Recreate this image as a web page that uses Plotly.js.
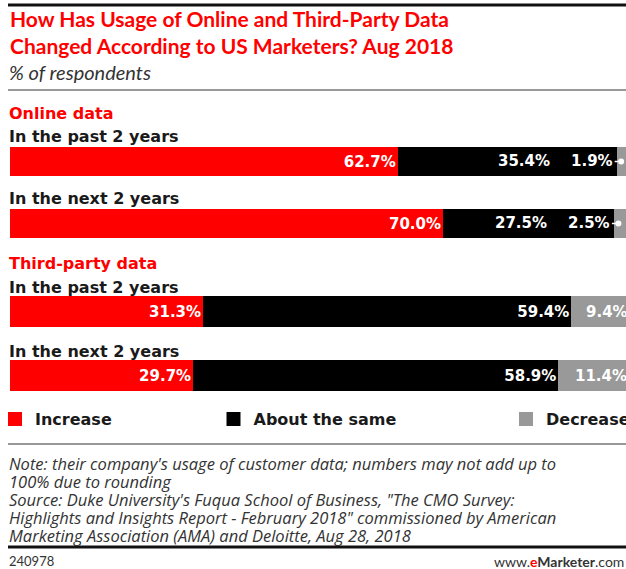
<!DOCTYPE html>
<html>
<head>
<meta charset="utf-8">
<script src="https://cdn.plot.ly/plotly-3.0.1.min.js"></script>
<style>html,body{margin:0;padding:0;background:#fff;}#chart{width:626px;height:569px;}</style>
</head>
<body>
<div id="chart"></div>
<script>
// ---- data ----
const groups = ['Online data', 'Third-party data'];
const rows = ['In the past 2 years', 'In the next 2 years'];
const seriesNames = ['Increase', 'About the same', 'Decrease'];
const seriesColors = ['#ff0000', '#000000', '#999999'];
const onlineIncrease = [62.7, 70.0];
const onlineSame = [35.4, 27.5];
const onlineDecrease = [1.9, 2.5];
const thirdIncrease = [31.3, 29.7];
const thirdSame = [59.4, 58.9];
const thirdDecrease = [9.4, 11.4];
const noteLines = [
  "Note: their company's usage of customer data; numbers may not add up to",
  "100% due to rounding",
  "Source: Duke University's Fuqua School of Business, \"The CMO Survey:",
  "Highlights and Insights Report - February 2018\" commissioned by American",
  "Marketing Association (AMA) and Deloitte, Aug 28, 2018"
];

// ---- layout constants ----
const W = 626, H = 569;
const px = y => 1 - y / H;            // pixel row -> paper y
const SMALL = 5;                       // values below this get a leader label
const BAR_FONT = {family: 'DejaVu Sans', size: 15, color: '#ffffff', weight: 'bold'};
const LABEL_FONT = {family: 'DejaVu Sans', size: 16, color: '#1a1a1a', weight: 'bold'};
const NOTE_FONT = {family: 'Open Sans', size: 16.5, color: '#333333', style: 'italic'};
const fmt = v => v.toFixed(1) + '%';

const groupData = [
  {yaxis: 'y', vals: [onlineIncrease, onlineSame, onlineDecrease]},
  {yaxis: 'y2', vals: [thirdIncrease, thirdSame, thirdDecrease]}
];

const traces = [];
const annotations = [];
groupData.forEach((g, gi) => {
  const dec = g.vals[2];
  g.vals.forEach((vals, si) => {
    let text = vals.map(fmt);
    if (si === 2) text = vals.map(v => v < SMALL ? '' : fmt(v));
    if (si === 1) text = vals.map((v, i) => dec[i] < SMALL ? '' : fmt(v));
    traces.push({
      type: 'bar', orientation: 'h',
      x: vals, y: rows, yaxis: g.yaxis, xaxis: 'x',
      name: seriesNames[si],
      marker: {color: seriesColors[si], line: {color: seriesColors[si], width: 2}},
      text: text, textposition: 'inside', insidetextanchor: 'end', textangle: 0,
      constraintext: 'none', textfont: BAR_FONT,
      showlegend: gi === 0,
      legend: ['legend', 'legend2', 'legend3'][si],
      hoverinfo: 'skip'
    });
  });
  // row labels
  rows.forEach(r => {
    annotations.push({xref: 'paper', x: 0, xanchor: 'left', xshift: -3, yref: g.yaxis, y: r, yshift: 24.5,
      yanchor: 'middle', text: r, showarrow: false, font: LABEL_FONT});
  });
  // leader labels for small Decrease values, and shifted "About the same" labels
  rows.forEach((r, i) => {
    if (dec[i] < SMALL) {
      const inc = g.vals[0][i], same = g.vals[1][i];
      annotations.push({xref: 'x', x: inc + same, xanchor: 'right', xshift: -66,
        yref: g.yaxis, y: r, yanchor: 'middle', text: fmt(same), showarrow: false, font: BAR_FONT});
      annotations.push({xref: 'x', x: inc + same + dec[i] * 0.25, yref: g.yaxis, y: r,
        text: fmt(dec[i]), showarrow: true, arrowhead: 6, arrowsize: 1, arrowwidth: 1.5,
        arrowcolor: '#ffffff', ax: -29, ay: 0, standoff: 0, font: BAR_FONT});
    }
  });
});

// group headers
annotations.push({xref: 'paper', x: 0, xanchor: 'left', xshift: -3, yref: 'paper', y: px(113), yanchor: 'middle',
  text: groups[0], showarrow: false, font: {family: 'DejaVu Sans', size: 16, color: '#ff0000', weight: 'bold'}});
annotations.push({xref: 'paper', x: 0, xanchor: 'left', xshift: -3, yref: 'paper', y: px(263), yanchor: 'middle',
  text: groups[1], showarrow: false, font: {family: 'DejaVu Sans', size: 16, color: '#ff0000', weight: 'bold'}});
// subtitle
annotations.push({xref: 'paper', x: 0, xanchor: 'left', xshift: -3, yref: 'paper', y: px(72), yanchor: 'middle',
  text: '% of respondents', showarrow: false,
  font: {family: 'Lato', size: 20, color: '#333333', style: 'italic'}});
// notes
const noteY = [463, 481, 499, 517, 535];
noteLines.forEach((t, i) => {
  annotations.push({xref: 'paper', x: 0, xanchor: 'left', xshift: -3, yref: 'paper', y: px(noteY[i]), yanchor: 'middle',
    text: t, showarrow: false, font: NOTE_FONT});
});
annotations.push({xref: 'paper', x: 0, xanchor: 'left', xshift: -3, yref: 'paper', y: px(561), yanchor: 'middle',
  text: '240978', showarrow: false, font: {family: 'Lato', size: 13, color: '#333333'}});
annotations.push({xref: 'paper', x: 1, xanchor: 'right', yref: 'paper', y: px(561), yanchor: 'middle',
  text: 'www.<b><span style="color:#ff0000">e</span>Marketer</b>.com', showarrow: false,
  font: {family: 'Lato', size: 14, color: '#333333'}});

const shapes = [
  {type: 'line', xref: 'paper', yref: 'paper', x0: -2 / 616, x1: 1.01, y0: px(5), y1: px(5), line: {color: '#111111', width: 3}},
  {type: 'line', xref: 'paper', yref: 'paper', x0: -2 / 616, x1: 1.01, y0: px(90), y1: px(90), line: {color: '#999999', width: 2}},
  {type: 'line', xref: 'paper', yref: 'paper', x0: -2 / 616, x1: 1.01, y0: px(444), y1: px(444), line: {color: '#999999', width: 2}},
  {type: 'line', xref: 'paper', yref: 'paper', x0: -2 / 616, x1: 1.01, y0: px(547), y1: px(547), line: {color: '#111111', width: 3}}
];

const legendBase = {orientation: 'h', y: px(419), yanchor: 'middle', xanchor: 'left',
  bgcolor: 'rgba(0,0,0,0)', font: LABEL_FONT, itemclick: false, itemdoubleclick: false};

const layout = {
  width: W, height: H,
  margin: {l: 10, r: 0, t: 0, b: 0, pad: 0, autoexpand: false},
  paper_bgcolor: '#ffffff', plot_bgcolor: '#ffffff',
  title: {text: 'How Has Usage of Online and Third-Party Data<br>Changed According to US Marketers? Aug 2018',
    font: {family: 'Lato', size: 21, color: '#ff0000', weight: 'bold'},
    xref: 'paper', x: 0, xanchor: 'left', yref: 'container', y: px(27), yanchor: 'top'},
  barmode: 'stack', bargap: 0.56,
  xaxis: {range: [0, 616 / 6.2], visible: false, fixedrange: true},
  yaxis: {type: 'category', categoryarray: rows, range: [1.5, -0.5], domain: [px(254.5), px(130.5)],
    showticklabels: false, showgrid: false, zeroline: false, fixedrange: true},
  yaxis2: {type: 'category', categoryarray: rows, range: [1.5, -0.5], domain: [px(407.5), px(279.5)],
    anchor: 'x', showticklabels: false, showgrid: false, zeroline: false, fixedrange: true},
  legend: Object.assign({}, legendBase, {x: -15 / 616}),
  legend2: Object.assign({}, legendBase, {x: 203.5 / 616}),
  legend3: Object.assign({}, legendBase, {x: 496 / 616}),
  annotations: annotations,
  shapes: shapes
};

Plotly.newPlot('chart', traces, layout, {displayModeBar: false, staticPlot: true});
</script>
</body>
</html>
